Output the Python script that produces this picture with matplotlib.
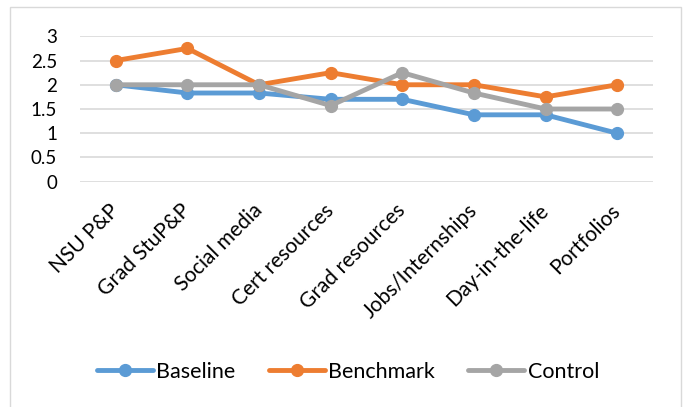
import matplotlib
matplotlib.use("Agg")
import matplotlib.pyplot as plt
from matplotlib.patches import Rectangle
from matplotlib.transforms import ScaledTranslation

categories = ["NSU P&P", "Grad StuP&P", "Social media", "Cert resources",
              "Grad resources", "Jobs/Internships", "Day-in-the-life", "Portfolios"]
baseline = [2.0, 1.83, 1.83, 1.7, 1.7, 1.38, 1.38, 1.0]
benchmark = [2.5, 2.75, 2.0, 2.25, 2.0, 2.0, 1.75, 2.0]
control = [2.0, 2.0, 2.0, 1.57, 2.25, 1.83, 1.5, 1.5]
y_ticks = [0, 0.5, 1, 1.5, 2, 2.5, 3]
y_tick_labels = ["0", "0.5", "1", "1.5", "2", "2.5", "3"]

series = [("Baseline", baseline, "#5B9BD5"),
          ("Benchmark", benchmark, "#ED7D31"),
          ("Control", control, "#A5A5A5")]

plt.rcParams["font.family"] = ["Lato", "DejaVu Sans"]

fig = plt.figure(figsize=(6.86, 4.07), dpi=100)
# chart-area border
fig.patches.append(Rectangle((10 / 686, -0.01), 671 / 686, 1 - 7 / 407 + 0.01,
                             transform=fig.transFigure, fill=False,
                             edgecolor="#D9D9D9", linewidth=1.0))

ax = fig.add_axes([80 / 686, 1 - 181.7 / 407, 573 / 686, (181.7 - 36.3) / 407])
x = list(range(len(categories)))
handles = []
for name, vals, color in series:
    h, = ax.plot(x, vals, color=color, linewidth=3.5, marker="o",
                 markersize=8.5, solid_capstyle="round", label=name, zorder=3)
    handles.append(h)

ax.set_xlim(-0.5, len(categories) - 0.5)
ax.set_ylim(0, 3)
ax.set_yticks(y_ticks)
ax.set_yticklabels(y_tick_labels, fontsize=13.5)
ax.set_xticks(x)
ax.set_xticklabels(categories, fontsize=15, rotation=45, ha="right",
                   rotation_mode="anchor")
ax.tick_params(axis="both", length=0, colors="#000000")
ax.tick_params(axis="y", pad=16.5)
ax.tick_params(axis="x", pad=13.5)
shift = ScaledTranslation(-7 / 100, 0, fig.dpi_scale_trans)
for lbl in ax.get_xticklabels():
    lbl.set_transform(lbl.get_transform() + shift)
ax.yaxis.grid(True, color="#D9D9D9", linewidth=1.2)
ax.set_axisbelow(True)
for s in ax.spines.values():
    s.set_visible(False)

fig.legend(handles=handles, loc="center",
           bbox_to_anchor=(0.5 + 5 / 686, 1 - 372 / 407),
           ncol=3, frameon=False, fontsize=15.5, handlelength=2.6,
           columnspacing=1.55, handletextpad=0.15, markerscale=1.0)

fig.savefig("out.png", dpi=100)
